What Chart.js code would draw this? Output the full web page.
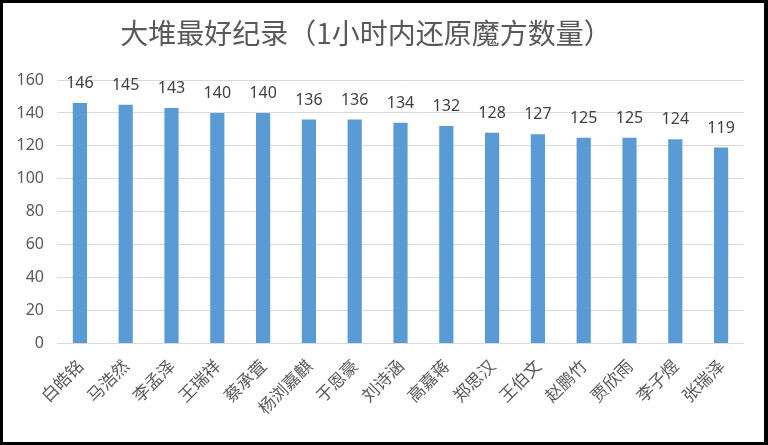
<!DOCTYPE html>
<html>
<head>
<meta charset="utf-8">
<script src="https://cdn.jsdelivr.net/npm/chart.js@4"></script>
<style>
  html, body { margin: 0; padding: 0; background: #000; }
  body { width: 768px; height: 445px; position: relative; overflow: hidden; }
  #wrap { position: absolute; left: 3px; top: 3px; width: 761px; height: 439px; background: #fff; }
</style>
</head>
<body>
<div id="wrap"><canvas id="c" width="761" height="439"></canvas></div>
<script>
const titleText = "大堆最好纪录（1小时内还原魔方数量）";
const categories = ["白皓铭","马浩然","李孟泽","王瑞祥","蔡承萓","杨浏嘉麒","于恩豪","刘诗涵","高嘉蒋","郑思汉","王伯文","赵鹏竹","贾欣雨","李子煜","张瑞泽"];
const values = [146,145,143,140,140,136,136,134,132,128,127,125,125,124,119];
const yTicks = [0,20,40,60,80,100,120,140,160];

const titlePlugin = {
  id: 'customTitle',
  afterDraw(chart) {
    const ctx = chart.ctx;
    ctx.save();
    ctx.font = '28px "Noto Sans CJK SC"';
    ctx.fillStyle = '#595959';
    ctx.textAlign = 'center';
    ctx.textBaseline = 'middle';
    ctx.fillText(titleText, 363, 30);
    ctx.restore();
  }
};

const labelPlugin = {
  id: 'dataLabels',
  afterDatasetsDraw(chart) {
    const ctx = chart.ctx;
    const meta = chart.getDatasetMeta(0);
    ctx.save();
    ctx.font = '16px "Noto Sans"';
    ctx.fillStyle = '#404040';
    ctx.textAlign = 'center';
    ctx.textBaseline = 'alphabetic';
    meta.data.forEach((bar, i) => {
      ctx.fillText(String(values[i]), bar.x, bar.y - 15);
    });
    ctx.restore();
  }
};

new Chart(document.getElementById('c'), {
  type: 'bar',
  data: {
    labels: categories,
    datasets: [{
      data: values,
      backgroundColor: '#5b9bd5',
      borderWidth: 0,
      barPercentage: 0.31,
      categoryPercentage: 1.0
    }]
  },
  options: {
    responsive: false,
    animation: false,
    layout: { padding: { top: 77, right: 20, left: 0, bottom: 0 } },
    plugins: { legend: { display: false }, tooltip: { enabled: false }, title: { display: false } },
    scales: {
      x: {
        grid: { display: false, drawTicks: false },
        border: { display: false },
        ticks: {
          autoSkip: false,
          maxRotation: 45,
          minRotation: 45,
          padding: 12,
          color: '#595959',
          font: { family: '"Noto Sans CJK SC"', size: 17 }
        },
        afterFit(scale) { scale.height = 98.5; }
      },
      y: {
        min: 0,
        max: 160,
        afterBuildTicks(scale) { scale.ticks = yTicks.map(v => ({ value: v })); },
        grid: { color: '#d9d9d9', lineWidth: 1, drawTicks: false },
        border: { display: false },
        ticks: {
          padding: 13,
          color: '#595959',
          font: { family: '"Noto Sans"', size: 16 }
        },
        afterFit(scale) { scale.width = 54; }
      }
    }
  },
  plugins: [titlePlugin, labelPlugin]
});
</script>
</body>
</html>
